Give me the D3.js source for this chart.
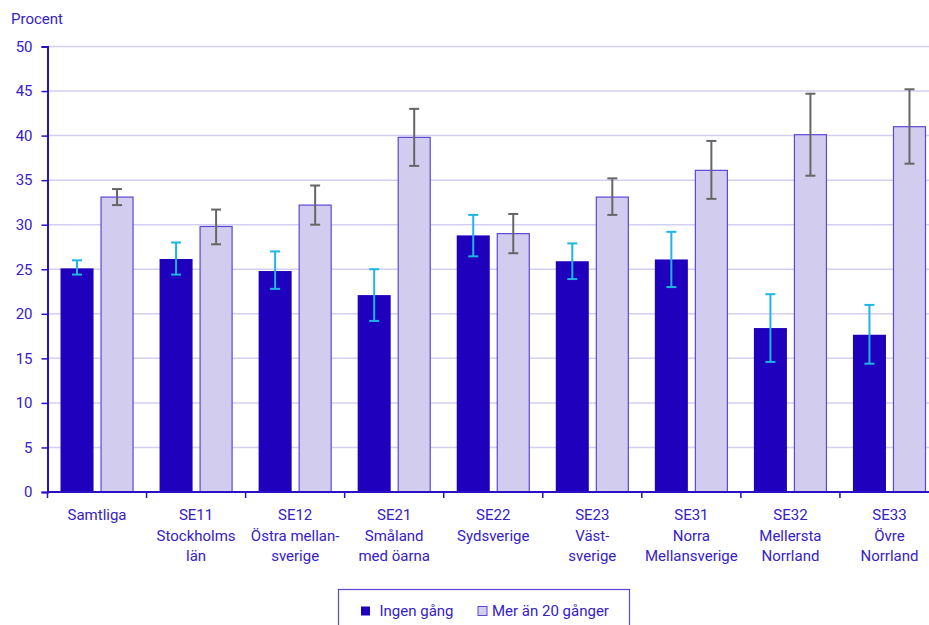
<!DOCTYPE html>
<html>
<head>
<meta charset="utf-8">
<script src="https://cdn.jsdelivr.net/npm/d3@7"></script>
<style>
  body { margin: 0; background: #fff; }
  text { font-family: Roboto, "Noto Sans", sans-serif; }
</style>
</head>
<body>
<div id="vis"></div>
<script>
// setting up the basics
const FRAME_WIDTH = 929;
const FRAME_HEIGHT = 625;
const MARGINS = {left: 47.5, right: -10, top: 46.5, bottom: 133};
const FONT = '15px';

const categories = ['Samtliga', 'SE11', 'SE12', 'SE21', 'SE22', 'SE23', 'SE31', 'SE32', 'SE33'];
const categoryLabels = [
    ['Samtliga'],
    ['SE11', 'Stockholms', 'län'],
    ['SE12', 'Östra mellan-', 'sverige'],
    ['SE21', 'Småland', 'med öarna'],
    ['SE22', 'Sydsverige'],
    ['SE23', 'Väst-', 'sverige'],
    ['SE31', 'Norra', 'Mellansverige'],
    ['SE32', 'Mellersta', 'Norrland'],
    ['SE33', 'Övre', 'Norrland']
];
const seriesNames = ['Ingen gång', 'Mer än 20 gånger'];

// values with lower / upper confidence limits
const ingenGang = [25.1, 26.15, 24.8, 22.1, 28.8, 25.9, 26.1, 18.4, 17.65];
const ingenLow  = [24.4, 24.4, 22.8, 19.2, 26.45, 23.9, 23.0, 14.6, 14.4];
const ingenHigh = [26.0, 28.0, 27.0, 25.0, 31.1, 27.9, 29.2, 22.2, 21.0];

const mer20     = [33.1, 29.8, 32.2, 39.8, 29.0, 33.1, 36.1, 40.1, 41.0];
const mer20Low  = [32.2, 27.8, 30.0, 36.6, 26.8, 31.1, 32.9, 35.5, 36.85];
const mer20High = [34.0, 31.7, 34.4, 43.0, 31.2, 35.2, 39.4, 44.7, 45.2];

const yTicks = [0, 5, 10, 15, 20, 25, 30, 35, 40, 45, 50];

const COLORS = {dark: '#1f00bd', light: '#d2cdef', lightStroke: '#5b48d6',
                errDark: '#1fb4e6', errLight: '#666666', grid: '#d3cff2',
                axis: '#2a10c4', text: '#3521c8'};

const VIS_WIDTH = FRAME_WIDTH - MARGINS.left - MARGINS.right;
const VIS_HEIGHT = FRAME_HEIGHT - MARGINS.top - MARGINS.bottom;

const FRAME = d3.select('#vis')
    .append('svg')
        .attr('width', FRAME_WIDTH)
        .attr('height', FRAME_HEIGHT);

const X_SCALE = d3.scaleBand()
    .domain(categories)
    .range([MARGINS.left, MARGINS.left + VIS_WIDTH]);

const INNER = d3.scaleBand()
    .domain([0, 1])
    .range([0, X_SCALE.bandwidth()])
    .paddingInner(0.175)
    .paddingOuter(0.325);

const Y_SCALE = d3.scaleLinear()
    .domain([0, 50])
    .range([MARGINS.top + VIS_HEIGHT, MARGINS.top]);

// gridlines
FRAME.append('g')
    .selectAll('line')
    .data(yTicks.filter(d => d > 0))
    .enter()
    .append('line')
        .attr('x1', MARGINS.left)
        .attr('x2', FRAME_WIDTH)
        .attr('y1', d => Y_SCALE(d))
        .attr('y2', d => Y_SCALE(d))
        .attr('stroke', COLORS.grid)
        .attr('stroke-width', 1.5);

// y axis title
FRAME.append('text')
    .attr('x', 11)
    .attr('y', 24)
    .attr('font-size', FONT)
    .attr('fill', COLORS.text)
    .text('Procent');

// bars
const groups = FRAME.append('g')
    .selectAll('g')
    .data(categories)
    .enter()
    .append('g')
        .attr('transform', d => 'translate(' + X_SCALE(d) + ',0)');

groups.append('rect')
    .attr('x', INNER(0))
    .attr('width', INNER.bandwidth())
    .attr('y', (d, i) => Y_SCALE(ingenGang[i]))
    .attr('height', (d, i) => Y_SCALE(0) - Y_SCALE(ingenGang[i]))
    .attr('fill', COLORS.dark);

groups.append('rect')
    .attr('x', INNER(1) + 0.5)
    .attr('width', INNER.bandwidth() - 1)
    .attr('y', (d, i) => Y_SCALE(mer20[i]))
    .attr('height', (d, i) => Y_SCALE(0) - Y_SCALE(mer20[i]))
    .attr('fill', COLORS.light)
    .attr('stroke', COLORS.lightStroke)
    .attr('stroke-width', 1.2);

// error bars
function errorBar(sel, idx, low, high, color) {
    const cx = INNER(idx) + INNER.bandwidth() / 2;
    const g = sel.append('g')
        .attr('stroke', color)
        .attr('stroke-width', 2);
    g.append('line')
        .attr('x1', cx).attr('x2', cx)
        .attr('y1', (d, i) => Y_SCALE(low[i]))
        .attr('y2', (d, i) => Y_SCALE(high[i]));
    [low, high].forEach(arr => {
        g.append('line')
            .attr('x1', cx - 5).attr('x2', cx + 5)
            .attr('y1', (d, i) => Y_SCALE(arr[i]))
            .attr('y2', (d, i) => Y_SCALE(arr[i]));
    });
}
errorBar(groups, 0, ingenLow, ingenHigh, COLORS.errDark);
errorBar(groups, 1, mer20Low, mer20High, COLORS.errLight);

// y axis
const yAxis = FRAME.append('g')
    .attr('transform', 'translate(' + MARGINS.left + ',0)')
    .call(d3.axisLeft(Y_SCALE).tickValues(yTicks).tickSize(6).tickPadding(9));
yAxis.select('.domain').attr('stroke', COLORS.axis).attr('stroke-width', 2);
yAxis.selectAll('.tick line').attr('stroke', COLORS.axis).attr('stroke-width', 1.5);
yAxis.selectAll('.tick text')
    .attr('fill', COLORS.text)
    .attr('font-size', FONT)
    .attr('font-family', 'Roboto, sans-serif');

// x axis
const xAxisG = FRAME.append('g')
    .attr('transform', 'translate(0,' + Y_SCALE(0) + ')');
xAxisG.append('line')
    .attr('x1', MARGINS.left).attr('x2', FRAME_WIDTH)
    .attr('stroke', COLORS.axis).attr('stroke-width', 2);
xAxisG.selectAll('.xtick')
    .data(categories)
    .enter()
    .append('line')
        .attr('x1', d => X_SCALE(d)).attr('x2', d => X_SCALE(d))
        .attr('y1', 0).attr('y2', 6)
        .attr('stroke', COLORS.axis).attr('stroke-width', 1.5);

const labels = xAxisG.selectAll('.xlabel')
    .data(categories)
    .enter()
    .append('text')
        .attr('text-anchor', 'middle')
        .attr('font-size', FONT)
        .attr('fill', COLORS.text)
        .attr('transform', d => 'translate(' + (X_SCALE(d) + X_SCALE.bandwidth() / 2) + ',28)');
labels.selectAll('tspan')
    .data((d, i) => categoryLabels[i])
    .enter()
    .append('tspan')
        .attr('x', 0)
        .attr('y', (d, j) => j * 20.7)
        .text(d => d);

// legend
const legend = FRAME.append('g');
legend.append('rect')
    .attr('x', 338.5).attr('y', 589.5)
    .attr('width', 291).attr('height', 50)
    .attr('fill', 'none')
    .attr('stroke', COLORS.lightStroke)
    .attr('stroke-width', 1.2);
const legendItems = [
    {x: 361, fill: COLORS.dark, stroke: 'none'},
    {x: 478, fill: COLORS.light, stroke: COLORS.lightStroke}
];
legend.selectAll('.lsq')
    .data(legendItems)
    .enter()
    .append('rect')
        .attr('x', d => d.x).attr('y', 606.5)
        .attr('width', 9).attr('height', 9)
        .attr('fill', d => d.fill)
        .attr('stroke', d => d.stroke);
legend.selectAll('.ltx')
    .data(seriesNames)
    .enter()
    .append('text')
        .attr('x', (d, i) => legendItems[i].x + (i === 0 ? 18.5 : 14))
        .attr('y', 616)
        .attr('font-size', FONT)
        .attr('fill', COLORS.text)
        .text(d => d);
</script>
</body>
</html>
